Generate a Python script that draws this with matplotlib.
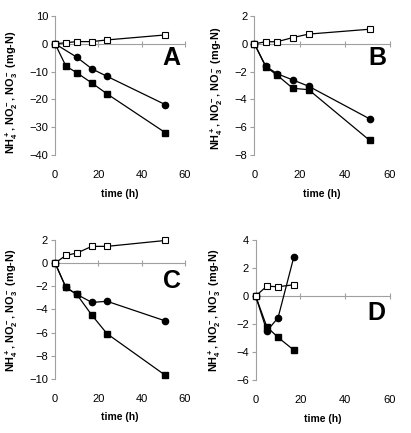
import matplotlib
matplotlib.use("Agg")
import matplotlib.pyplot as plt

plt.rcParams['font.family'] = ['Liberation Sans', 'DejaVu Sans']
plt.rcParams['mathtext.default'] = 'regular'

# panel A
time_a = [0, 5, 10, 17, 24, 51]
open_a = [0, 0.4, 0.8, 0.8, 1.4, 3.2]
circ_time_a = [0, 10, 17, 24, 51]
circ_a = [0, -4.8, -9.0, -11.7, -21.9]
fill_a = [0, -8.0, -10.4, -14.1, -18.0, -32.0]

# panel B
time_b = [0, 5, 10, 17, 24, 51]
open_b = [0, 0.15, 0.15, 0.45, 0.7, 1.05]
circ_b = [0, -1.6, -2.15, -2.6, -3.05, -5.4]
fill_b = [0, -1.65, -2.25, -3.2, -3.3, -6.95]

# panel C
time_c = [0, 5, 10, 17, 24, 51]
open_c = [0, 0.66, 0.86, 1.44, 1.44, 1.95]
circ_c = [0, -2.1, -2.7, -3.4, -3.3, -5.0]
fill_c = [0, -2.1, -2.7, -4.5, -6.1, -9.7]

# panel D
time_d = [0, 5, 10, 17]
open_d = [0, 0.7, 0.66, 0.8]
circ_d = [0, -2.5, -1.55, 2.75]
fill_d = [0, -2.2, -2.95, -3.85]

ylabel = r'NH$_4^+$, NO$_2^-$, NO$_3^-$ (mg-N)'
grey = '#a0a0a0'

panels = [
    ('A', [0.134, 0.642, 0.316, 0.321], (-40, 10), 10, time_a, open_a, circ_time_a, circ_a, fill_a,
     (53.5, -5.0), (-0.27, 0.45)),
    ('B', [0.619, 0.642, 0.330, 0.321], (-8, 2), 2, time_b, open_b, time_b, circ_b, fill_b,
     (54.2, -1.0), (-0.216, 0.48)),
    ('C', [0.134, 0.125, 0.316, 0.321], (-10, 2), 2, time_c, open_c, time_c, circ_c, fill_c,
     (54, -1.54), (-0.27, 0.49)),
    ('D', [0.622, 0.122, 0.327, 0.324], (-6, 4), 2, time_d, open_d, time_d, circ_d, fill_d,
     (54, -1.18), (-0.243, 0.5)),
]

fig = plt.figure(figsize=(4.11, 4.33), dpi=100)

for letter, rect, ylim, ystep, t, op, tc, ci, fi, lpos, labpos in panels:
    ax = fig.add_axes(rect)
    ax.plot(t, fi, color='black', lw=0.9, marker='s', ms=4.5,
            mfc='black', mec='black', zorder=3, clip_on=False)
    ax.plot(tc, ci, color='black', lw=0.9, marker='o', ms=4.5,
            mfc='black', mec='black', zorder=3, clip_on=False)
    ax.plot(t, op, color='black', lw=0.9, marker='s', ms=4.5,
            mfc='white', mec='black', mew=0.8, zorder=4, clip_on=False)
    ax.set_xlim(0, 60)
    ax.set_ylim(*ylim)
    ax.set_yticks(range(ylim[0], ylim[1] + 1, ystep))
    ax.set_xticks([0, 20, 40, 60])
    for s in ['top', 'right', 'bottom']:
        ax.spines[s].set_visible(False)
    ax.spines['left'].set_color(grey)
    ax.tick_params(axis='y', length=3, color=grey, labelsize=8, pad=2)
    ax.tick_params(axis='x', length=0, labelsize=8, pad=11)
    sec = ax.secondary_xaxis(0, transform=ax.transData)
    sec.set_xticks([20, 40, 60])
    sec.tick_params(axis='x', direction='inout', length=5, color=grey,
                    labelbottom=False)
    sec.spines['bottom'].set_color(grey)
    ax.set_xlabel('time (h)', fontsize=7.5, fontweight='bold', labelpad=6)
    ax.set_ylabel(ylabel, fontsize=7.8, fontweight='bold')
    ax.yaxis.set_label_coords(*labpos)
    ax.text(lpos[0], lpos[1], letter, fontsize=18, fontweight='bold',
            ha='center', va='center')
    ax.patch.set_visible(False)

fig.savefig('out.png', dpi=100)
